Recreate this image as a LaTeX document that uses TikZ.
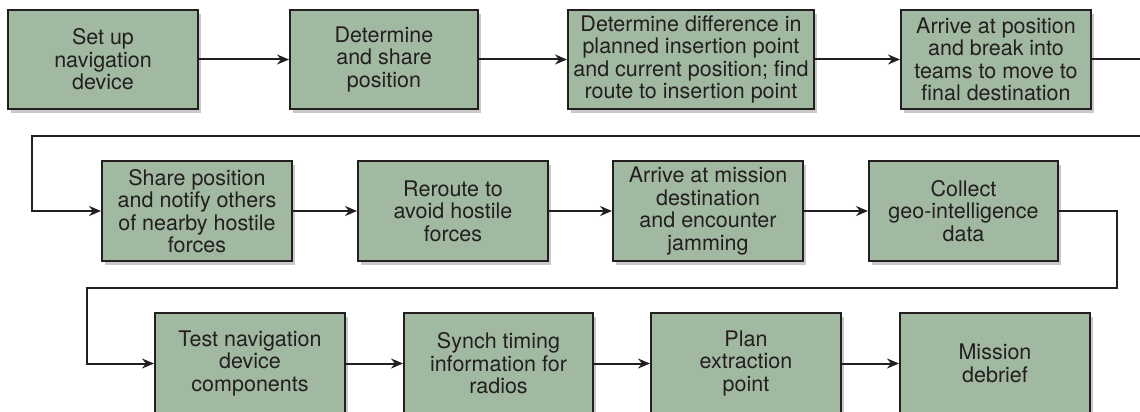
\documentclass[tikz,border=0pt]{standalone}
\usepackage{fontspec}
\setmainfont{TeX Gyre Heros}
\usepackage{tikz}
\usetikzlibrary{positioning, arrows.meta, shadows}

\definecolor{sage}{HTML}{A1B9A0}
\definecolor{inkgray}{HTML}{231F20}

\begin{document}
\begin{tikzpicture}[
    x=1pt, y=-1pt,
    arrow/.style={-{Stealth[length=12pt, width=10pt]}, line width=2pt, inkgray},
    stepbox/.style={draw=inkgray, line width=2pt, fill=sage, text=inkgray,
                    align=center, inner sep=0pt, minimum height=99pt,
                    font=\fontsize{21.5}{22.5}\selectfont,
                    drop shadow={opacity=0.3, shadow xshift=3pt, shadow yshift=-4pt, fill=black!70}}
]

    \useasboundingbox (0,0) rectangle (1140,412);

    % Row 1
    \node[stepbox, minimum width=190pt] (setup)   at (103,59.5) {Set up\\navigation\\device};
    \node[stepbox, minimum width=188pt] (share)   at (384,59.5) {Determine\\and share\\position};
    \node[stepbox, minimum width=246pt] (diff)    at (691,59.5) {Determine difference in\\planned insertion point\\and current position; find\\route to insertion point};
    \node[stepbox, minimum width=190pt] (arrive)  at (996,59.5) {Arrive at position\\and break into\\teams to move to\\final destination};

    % Row 2
    \node[stepbox, minimum width=190pt, minimum height=100pt] (notify)  at (197,211) {Share position\\and notify others\\of nearby hostile\\forces};
    \node[stepbox, minimum width=190pt, minimum height=100pt] (reroute) at (453,211) {Reroute to\\avoid hostile\\forces};
    \node[stepbox, minimum width=190pt, minimum height=100pt] (jamming) at (708,211) {Arrive at mission\\destination\\and encounter\\jamming};
    \node[stepbox, minimum width=189pt, minimum height=100pt] (collect) at (963.5,211) {Collect\\geo-intelligence\\data};

    % Row 3 (cut off by the lower edge)
    \node[stepbox, minimum width=190pt, minimum height=101pt] (test)    at (250,363.5) {Test navigation\\device\\components};
    \node[stepbox, minimum width=189pt, minimum height=101pt] (synch)   at (498.5,363.5) {Synch timing\\information for\\radios};
    \node[stepbox, minimum width=190pt, minimum height=101pt] (extract) at (746,363.5) {Plan\\extraction\\point};
    \node[stepbox, minimum width=190pt, minimum height=101pt] (debrief) at (995,363.5) {Mission\\debrief};

    % Turning points of the long connectors
    \coordinate (edgeA) at (1144,136);
    \coordinate (leftA) at (32,136);
    \coordinate (edgeB) at (1117,288);
    \coordinate (leftB) at (87,288);

    % Connectors
    \draw[arrow] (setup) -- (share);
    \draw[arrow] (share) -- (diff);
    \draw[arrow] (diff) -- (arrive);
    \draw[arrow] (arrive.east) -| (edgeA) -- (leftA) |- (notify.west);
    \draw[arrow] (notify) -- (reroute);
    \draw[arrow] (reroute) -- (jamming);
    \draw[arrow] (jamming) -- (collect);
    \draw[arrow] (collect.east) -| (edgeB) -- (leftB) |- (test.west);
    \draw[arrow] (test) -- (synch);
    \draw[arrow] (synch) -- (extract);
    \draw[arrow] (extract) -- (debrief);

\end{tikzpicture}
\end{document}
